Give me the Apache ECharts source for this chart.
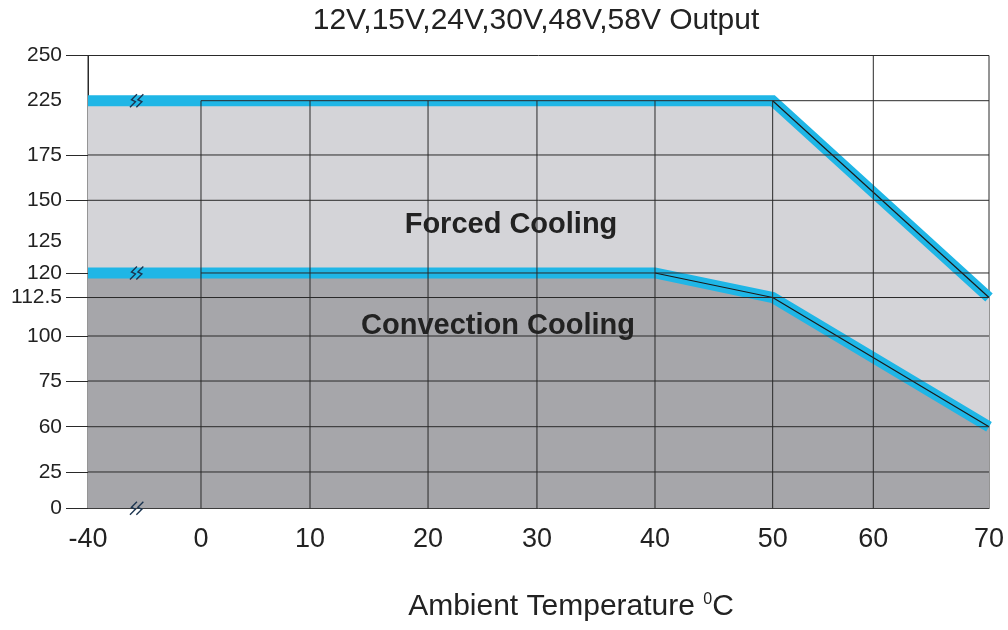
<!DOCTYPE html>
<html><head><meta charset="utf-8">
<script src="https://cdn.jsdelivr.net/npm/echarts@6/dist/echarts.min.js"></script>
<style>html,body{margin:0;padding:0;background:#fff}#c{width:1008px;height:630px}</style>
</head><body><div id="c"></div>
<script>
// ---- data ----
const xTickValues = [-40, 0, 10, 20, 30, 40, 50, 60, 70];
const xTickLabels = ['-40', '0', '10', '20', '30', '40', '50', '60', '70'];
const yTickValues = [0, 25, 60, 75, 100, 112.5, 120, 125, 150, 175, 225, 250];
const yTickLabels = ['0', '25', '60', '75', '100', '112.5', '120', '125', '150', '175', '225', '250'];
const forcedTemp = [-40, 50, 70];
const forcedLoad = [225, 225, 112.5];
const convTemp = [-40, 40, 50, 70];
const convLoad = [120, 120, 112.5, 60];
const titleText = '12V,15V,24V,30V,48V,58V Output';
const xName = 'Ambient Temperature ';

// ---- non-uniform axis scales of the original drawing (fraction of axis length) ----
const X_FRAC = [0, 0.1254, 0.2464, 0.3774, 0.4983, 0.6293, 0.7599, 0.8716, 1];
const Y_FRAC = [0, 0.0802, 0.1802, 0.2811, 0.3805, 0.4655, 0.5197, 0.5888, 0.6802, 0.7803, 0.9002, 1];
function scale(values, fracs) {
  return v => {
    for (let i = 0; i < values.length - 1; i++) {
      if (v >= values[i] && v <= values[i + 1]) {
        return fracs[i] + (v - values[i]) / (values[i + 1] - values[i]) * (fracs[i + 1] - fracs[i]);
      }
    }
    return v < values[0] ? fracs[0] : fracs[fracs.length - 1];
  };
}
const sx = scale(xTickValues, X_FRAC);
const sy = scale(yTickValues, Y_FRAC);
function labelFor(v, fracs, labels) {
  for (let i = 0; i < fracs.length; i++) if (Math.abs(fracs[i] - v) < 1e-6) return labels[i];
  return '';
}
const forcedData = forcedTemp.map((t, i) => [sx(t), sy(forcedLoad[i])]);
const convData = convTemp.map((t, i) => [sx(t), sy(convLoad[i])]);

const yTickNoMark = [125, 225];
const yTickMarkFracs = yTickValues.filter(v => yTickNoMark.indexOf(v) < 0).map(sy);

const GRID = '#2a2a2a';
const BLUE = '#1fb6e6';
const FONT = "'Liberation Sans', Arial, sans-serif";

const chart = echarts.init(document.getElementById('c'));
chart.setOption({
  animation: false,
  grid: { left: 88, right: 19, top: 55.5, bottom: 121.7, show: true, borderColor: GRID, borderWidth: 1, backgroundColor: 'transparent' },
  xAxis: {
    type: 'value', min: 0, max: 1,
    axisLine: { show: true, lineStyle: { color: GRID, width: 1 } },
    axisTick: { show: false },
    splitLine: { show: false },
    axisLabel: {
      customValues: X_FRAC,
      formatter: v => labelFor(v, X_FRAC, xTickLabels),
      fontSize: 27, color: '#222', fontFamily: FONT, margin: 18
    }
  },
  yAxis: {
    type: 'value', min: 0, max: 1,
    axisLine: { show: true, lineStyle: { color: GRID, width: 1 } },
    axisTick: { show: true, inside: false, length: 22, customValues: yTickMarkFracs, lineStyle: { color: GRID, width: 1 } },
    splitLine: { show: false },
    axisLabel: {
      customValues: Y_FRAC,
      formatter: v => labelFor(v, Y_FRAC, yTickLabels),
      fontSize: 21, color: '#222', fontFamily: FONT, margin: 26
    }
  },
  series: [
    { type: 'line', data: forcedData, symbol: 'none', z: 1, lineStyle: { width: 0 }, areaStyle: { color: '#d4d4d8', opacity: 1, origin: 'start' } },
    { type: 'line', data: convData, symbol: 'none', z: 2, lineStyle: { width: 0 }, areaStyle: { color: '#a6a6aa', opacity: 1, origin: 'start' } },
    { type: 'line', data: forcedData, symbol: 'none', z: 3, lineStyle: { color: BLUE, width: 11, join: 'miter' } },
    { type: 'line', data: convData, symbol: 'none', z: 3, lineStyle: { color: BLUE, width: 11, join: 'miter' } },
    { type: 'line', data: forcedData.slice(1), symbol: 'none', z: 4, lineStyle: { color: '#1a1a1a', width: 1.2 } },
    { type: 'line', data: convData.slice(1), symbol: 'none', z: 4, lineStyle: { color: '#1a1a1a', width: 1.2 } },
    {
      type: 'custom', z: 5, silent: true, clip: false,
      data: [[0, 0]],
      renderItem: (params, api) => {
        const children = [];
        const hl = (v, fromT) => {
          const a = api.coord([sx(fromT), sy(v)]);
          const b = api.coord([sx(70), sy(v)]);
          children.push({ type: 'line', shape: { x1: a[0], y1: a[1], x2: b[0], y2: b[1] }, style: { stroke: GRID, lineWidth: 1 } });
        };
        const vl = (t, toV) => {
          const a = api.coord([sx(t), sy(0)]);
          const b = api.coord([sx(t), sy(toV)]);
          children.push({ type: 'line', shape: { x1: a[0], y1: a[1], x2: b[0], y2: b[1] }, style: { stroke: GRID, lineWidth: 1 } });
        };
        [175, 150, 112.5, 100, 75, 60, 25].forEach(v => hl(v, -40));
        [225, 120].forEach(v => hl(v, 0));
        [0, 10, 20, 30, 40, 50].forEach(t => vl(t, 225));
        vl(60, 250);
        // axis break marks
        const bx = api.coord([0.054, 0])[0];
        [225, 120, 0].forEach(v => {
          const cy = api.coord([0, sy(v)])[1];
          [-3.2, 3.2].forEach(dx => {
            const cx = bx + dx;
            children.push({ type: 'polyline', shape: { points: [[cx + 3.5, cy - 6.5], [cx - 2, cy - 1], [cx + 2, cy + 1], [cx - 3.5, cy + 6.5]] }, style: { stroke: '#1c3550', lineWidth: 1.4, fill: null } });
          });
        });
        return { type: 'group', children };
      }
    }
  ],
  graphic: [
    { type: 'text', x: 536, y: 21, z: 10, style: { text: titleText, font: "30px " + FONT, fill: '#222', textAlign: 'center', textVerticalAlign: 'middle' } },
    { type: 'text', x: 511, y: 225, z: 10, style: { text: 'Forced Cooling', font: "bold 29px " + FONT, fill: '#222', textAlign: 'center', textVerticalAlign: 'middle' } },
    { type: 'text', x: 498, y: 326, z: 10, style: { text: 'Convection Cooling', font: "bold 29px " + FONT, fill: '#222', textAlign: 'center', textVerticalAlign: 'middle' } },
    { type: 'text', x: 571, y: 607, z: 10, style: {
        text: xName + '{sup|0}C', font: "30px " + FONT, fill: '#222', textAlign: 'center', textVerticalAlign: 'middle',
        rich: { sup: { fontSize: 16, fontFamily: FONT, fill: '#222', verticalAlign: 'top', padding: [0, 0, 12, 0] } }
      } }
  ]
});
</script></body></html>
